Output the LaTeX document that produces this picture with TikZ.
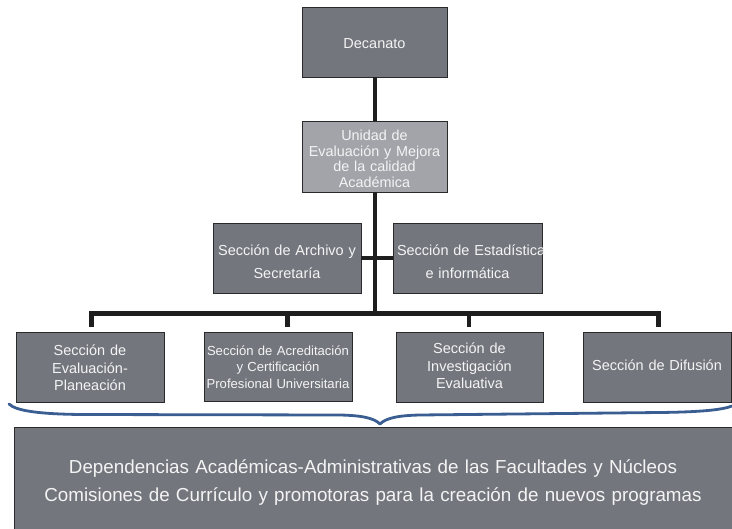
\documentclass[tikz,border=0pt]{standalone}
\usepackage{fontspec}
\setmainfont{Liberation Sans}
\definecolor{boxgray}{HTML}{74767E}
\definecolor{lightgray}{HTML}{A2A4AA}
\definecolor{boxline}{HTML}{2A2A2A}
\definecolor{boxtext}{HTML}{F4F4F4}
\definecolor{connector}{HTML}{1E1E1E}
\definecolor{bracecol}{HTML}{3A5E92}
\begin{document}
\begin{tikzpicture}[x=1pt,y=-1pt,
  orgbox/.style={draw=boxline, line width=0.9pt, fill=boxgray,
    inner sep=0pt, anchor=center},
  orgtext/.style={text=boxtext, align=center, inner sep=0pt, anchor=center, text width=#1},
  orgtext/.default=140pt,
  conn/.style={draw=connector, line width=4.5pt},
  bracestyle/.style={draw=bracecol, line width=2.8pt, line cap=round, line join=round}
]
\useasboundingbox (0,0) rectangle (732,529);
\fill[white] (0,0) rectangle (732,529);

% boxes
\node[orgbox, minimum width=145pt, minimum height=70pt] (dec) at (374.5,42) {};
\node[orgtext, font=\fontsize{14.5}{16}\selectfont] (dect) at (374.5,43.5) {Decanato};

\node[orgbox, fill=lightgray, minimum width=145pt, minimum height=71pt] (uni) at (374.5,156.5) {};
\node[orgtext, font=\fontsize{14.4}{15.7}\selectfont] (unit) at (374.5,159)
  {Unidad de\\Evaluación y Mejora\\de la calidad\\Académica};

\node[orgbox, minimum width=148pt, minimum height=70pt] (arc) at (287,258) {};
\node[orgtext, font=\fontsize{14.5}{23}\selectfont] (arct) at (287,262)
  {Sección de Archivo y\\Secretaría};

\node[orgbox, minimum width=149pt, minimum height=70pt] (est) at (467.5,258) {};
\node[orgtext=141pt, font=\fontsize{14.5}{23}\selectfont] (estt) at (467.5,262)
  {\mbox{Sección de Estadística}\\e informática};

\node[orgbox, minimum width=148pt, minimum height=70pt] (b1) at (90,367) {};
\node[orgtext, font=\fontsize{14.5}{17.7}\selectfont] (b1t) at (90,368)
  {Sección de\\Evaluación-\\Planeación};

\node[orgbox, minimum width=148pt, minimum height=69pt] (b2) at (278,366.5) {};
\node[orgtext=144pt, font=\fontsize{13.1}{16.5}\selectfont] (b2t) at (278,367)
  {Sección de Acreditación\\y Certificación\\Profesional Universitaria};

\node[orgbox, minimum width=147pt, minimum height=70pt] (b3) at (469.5,367) {};
\node[orgtext, font=\fontsize{14.5}{17.5}\selectfont] (b3t) at (469.5,366)
  {Sección de\\Investigación\\Evaluativa};

\node[orgbox, minimum width=148pt, minimum height=70pt] (b4) at (657,367) {};
\node[orgtext, font=\fontsize{14.5}{17.5}\selectfont] (b4t) at (657,365.5)
  {Sección de Difusión};

\node[orgbox, minimum width=720pt, minimum height=112pt] (dep) at (374,483) {};
\node[orgtext=700pt, font=\fontsize{18.8}{28}\selectfont] (dept) at (373,483)
  {Dependencias Académicas-Administrativas de las Facultades y Núcleos\\
   Comisiones de Currículo y promotoras para la creación de nuevos programas};

% connectors
\coordinate (busc) at (375,313.5);
\coordinate (busl) at (91.5,313.5);
\coordinate (busr) at (658.5,313.5);
\coordinate (d1) at (91.5,327);
\coordinate (t2) at (287.5,313.5);
\coordinate (d2) at (287.5,327);
\coordinate (t3) at (469,313.5);
\coordinate (d3) at (469,327);
\coordinate (d4) at (658.5,327);

\draw[conn] (dec.south -| busc) -- (uni.north -| busc);
\draw[conn] (uni.south -| busc) -- (busc);
\draw[conn] (arc.east) -- (est.west);
\draw[conn, line join=miter] (d1) -- (busl) -- (busr) -- (d4);
\draw[conn] (t2) -- (d2);
\draw[conn] (t3) -- (d3);

% brace
\draw[bracestyle] (9,404) .. controls (16,411) and (40,414) .. (80,414.5)
  -- (340,415) .. controls (362,415.5) and (374,418) .. (380,424)
  .. controls (386,418) and (398,415.5) .. (420,415)
  -- (660,412.5) .. controls (700,412) and (722,410) .. (732,406);
\end{tikzpicture}
\end{document}
